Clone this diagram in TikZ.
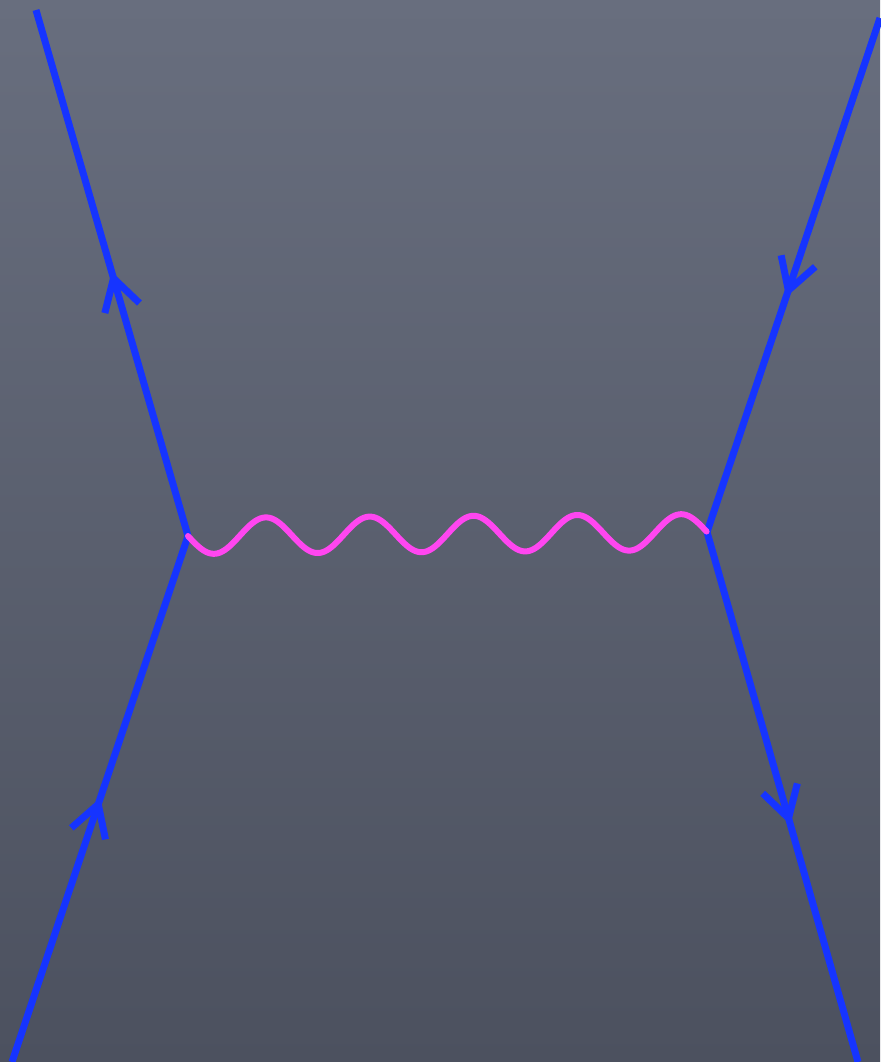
\documentclass[tikz,border=0pt]{standalone}
\usetikzlibrary{decorations.markings,calc}
\definecolor{fermion}{RGB}{22,52,255}
\definecolor{photon}{RGB}{255,70,240}
\definecolor{bgtop}{RGB}{104,110,126}
\definecolor{bgbot}{RGB}{76,81,95}
\tikzset{
  fermionline/.style={draw=fermion, line width=3.5pt},
  chev/.style={postaction={decorate, decoration={markings,
      mark=at position #1 with {\draw[fermion, line width=3.5pt, line cap=butt, line join=miter]
        (-15.5pt,9pt) -- (0,0) -- (-15.5pt,-9pt);}}}},
  photonline/.style={draw=photon, line width=3pt, line cap=round, line join=round},
}
\begin{document}
\begin{tikzpicture}[x=0.5pt,y=-0.5pt]
  \shade[top color=bgtop, bottom color=bgbot] (0,0) rectangle (880,1062);
  \useasboundingbox (0,0) rectangle (880,1062);
  \coordinate (V1) at (188,536);
  \coordinate (V2) at (707,532);
  \coordinate (A) at (12,1062);
  \coordinate (B) at (36,10);
  \coordinate (C) at (880,18);
  \coordinate (D) at (858,1062);
  \path[fermionline, chev=0.49] (A) -- (V1);
  \path[fermionline, chev=0.49] (V1) -- (B);
  \path[fermionline, chev=0.53] (C) -- (V2);
  \path[fermionline, chev=0.54] (V2) -- (D);
  \draw[photonline, shift={(V1)}] plot[domain=0:1, samples=300, smooth]
     ({519*\x}, {-4*\x + 18*sin(1800*\x)});
\end{tikzpicture}
\end{document}
